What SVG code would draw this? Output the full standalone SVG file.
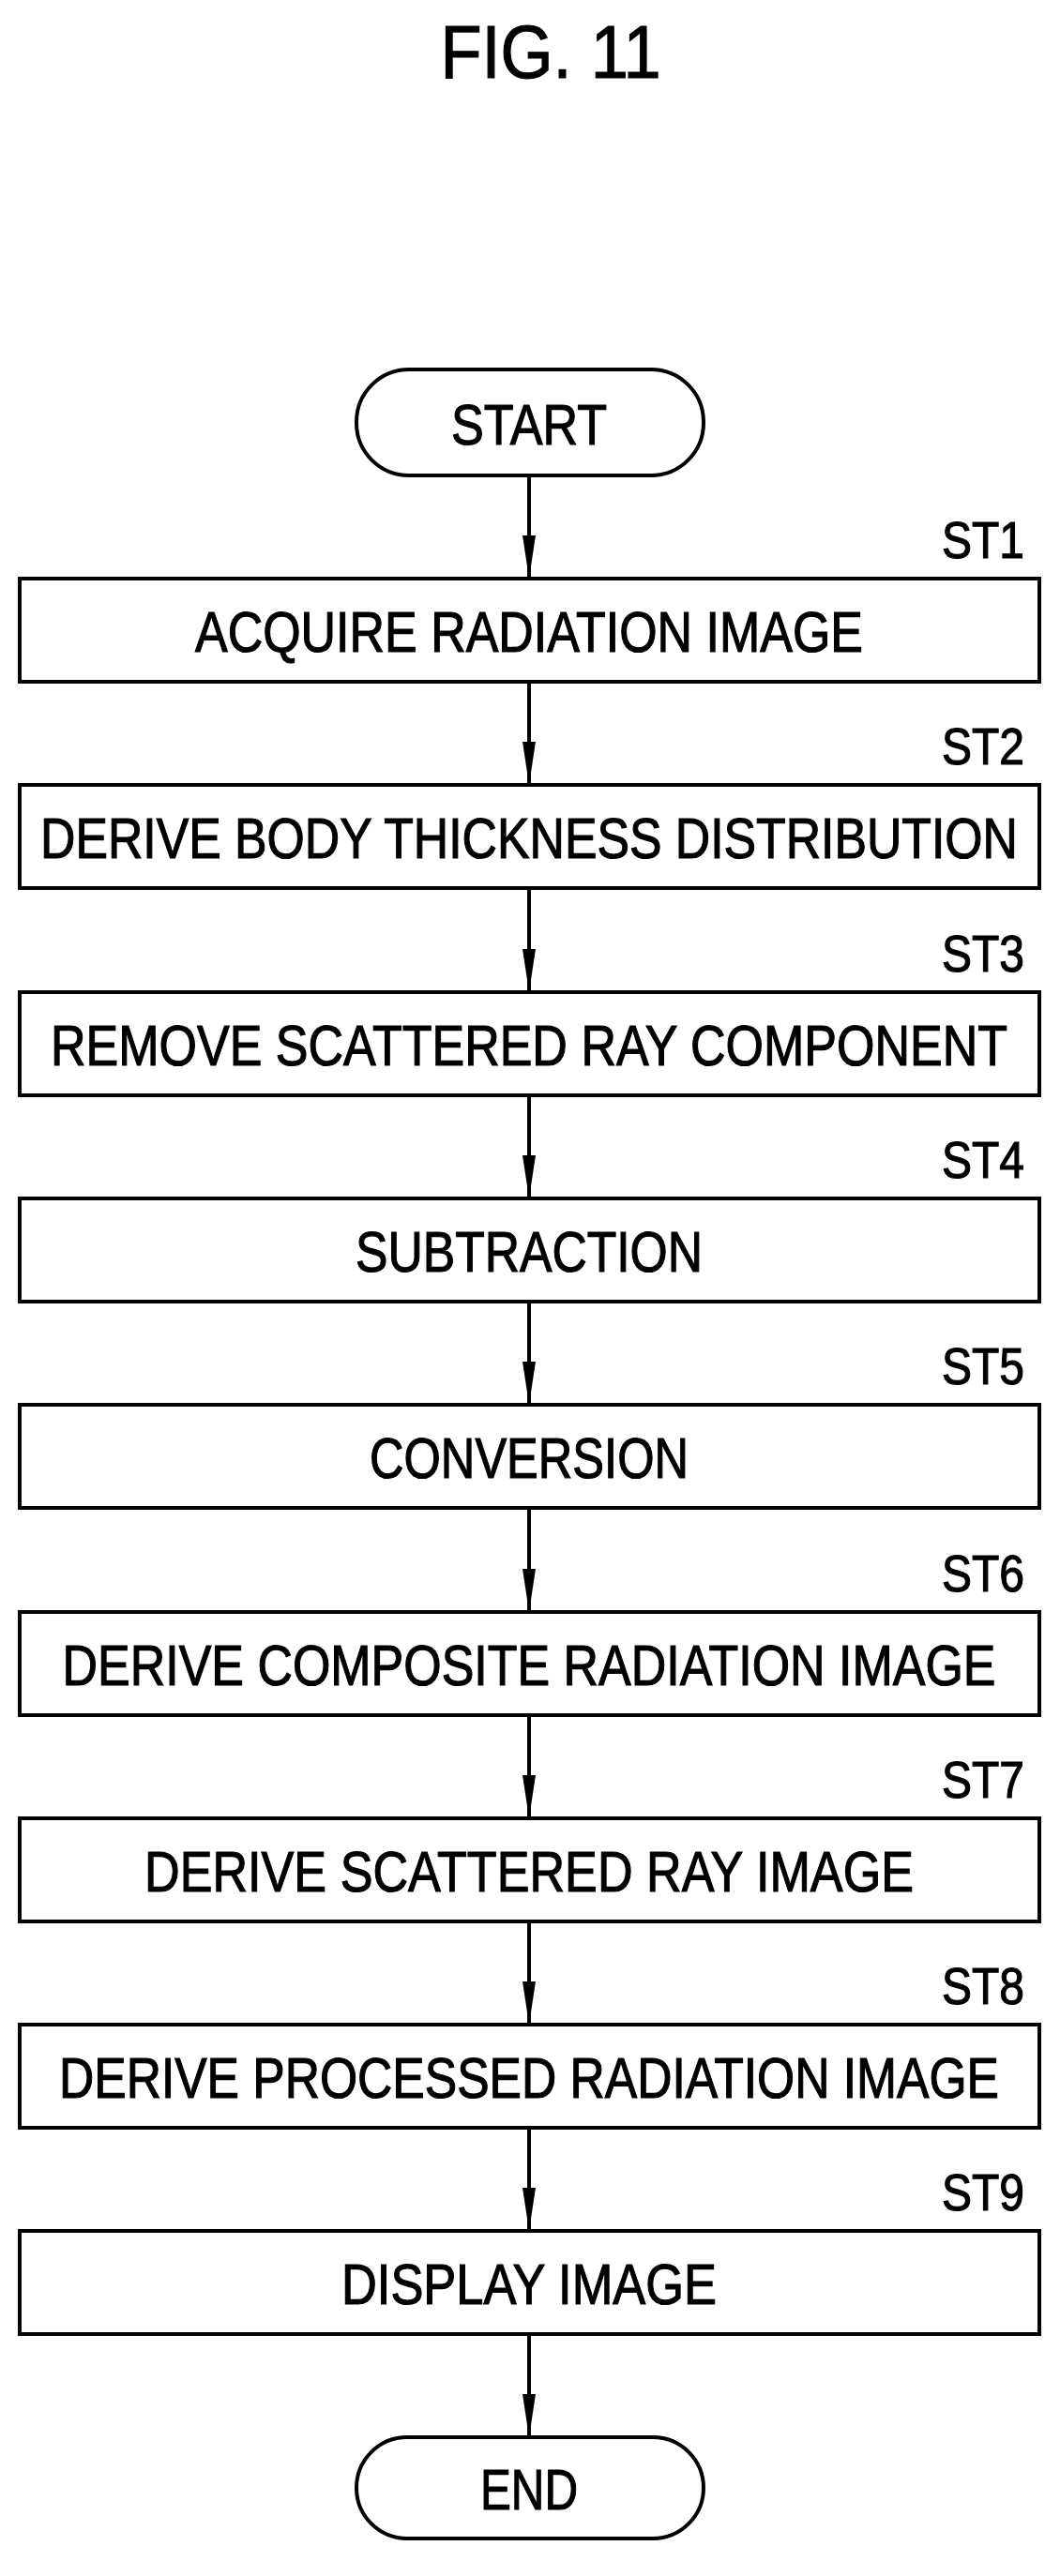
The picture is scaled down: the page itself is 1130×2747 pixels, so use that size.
<svg xmlns="http://www.w3.org/2000/svg" width="1130" height="2747" viewBox="0 0 1130 2747">
<style>
text{font-family:"Liberation Sans",Arial,sans-serif;fill:#000;stroke:#000;stroke-width:1.2}
.t{font-size:62px;text-anchor:middle}
.s{font-size:56px;text-anchor:end}
.b{fill:#fff;stroke:#000;stroke-width:4}
.c line{stroke:#000;stroke-width:4}
</style>
<defs><marker id="d" markerWidth="46" markerHeight="14" refX="46" refY="7" orient="auto" markerUnits="userSpaceOnUse"><path d="M0,0 L46,7 L0,14 Z" fill="#000"/></marker></defs>
<text x="587" y="83" font-size="80" text-anchor="middle" textLength="235" lengthAdjust="spacingAndGlyphs">FIG. 11</text>
<g class="c">
<line x1="564" y1="507" x2="564" y2="617" marker-end="url(#d)"/>
<line x1="564" y1="727" x2="564" y2="837" marker-end="url(#d)"/>
<line x1="564" y1="948" x2="564" y2="1058" marker-end="url(#d)"/>
<line x1="564" y1="1168" x2="564" y2="1278" marker-end="url(#d)"/>
<line x1="564" y1="1388" x2="564" y2="1498" marker-end="url(#d)"/>
<line x1="564" y1="1609" x2="564" y2="1719" marker-end="url(#d)"/>
<line x1="564" y1="1829" x2="564" y2="1939" marker-end="url(#d)"/>
<line x1="564" y1="2049" x2="564" y2="2159" marker-end="url(#d)"/>
<line x1="564" y1="2269" x2="564" y2="2379" marker-end="url(#d)"/>
<line x1="564" y1="2489" x2="564" y2="2599" marker-end="url(#d)"/>
</g>
<g id="start"><rect class="b" x="380" y="394" width="370" height="113" rx="56"/><text class="t" x="564" y="474" textLength="166" lengthAdjust="spacingAndGlyphs">START</text></g>
<g id="st1"><rect class="b" x="21" y="617" width="1087" height="110"/><text class="t" x="564" y="695" textLength="712" lengthAdjust="spacingAndGlyphs">ACQUIRE RADIATION IMAGE</text><text class="s" x="1092" y="595" textLength="88" lengthAdjust="spacingAndGlyphs">ST1</text></g>
<g id="st2"><rect class="b" x="21" y="837" width="1087" height="110"/><text class="t" x="564" y="915" textLength="1042" lengthAdjust="spacingAndGlyphs">DERIVE BODY THICKNESS DISTRIBUTION</text><text class="s" x="1092" y="815" textLength="88" lengthAdjust="spacingAndGlyphs">ST2</text></g>
<g id="st3"><rect class="b" x="21" y="1058" width="1087" height="110"/><text class="t" x="564" y="1136" textLength="1020" lengthAdjust="spacingAndGlyphs">REMOVE SCATTERED RAY COMPONENT</text><text class="s" x="1092" y="1036" textLength="88" lengthAdjust="spacingAndGlyphs">ST3</text></g>
<g id="st4"><rect class="b" x="21" y="1278" width="1087" height="110"/><text class="t" x="564" y="1356" textLength="370" lengthAdjust="spacingAndGlyphs">SUBTRACTION</text><text class="s" x="1092" y="1256" textLength="88" lengthAdjust="spacingAndGlyphs">ST4</text></g>
<g id="st5"><rect class="b" x="21" y="1498" width="1087" height="110"/><text class="t" x="564" y="1576" textLength="340" lengthAdjust="spacingAndGlyphs">CONVERSION</text><text class="s" x="1092" y="1476" textLength="88" lengthAdjust="spacingAndGlyphs">ST5</text></g>
<g id="st6"><rect class="b" x="21" y="1719" width="1087" height="110"/><text class="t" x="564" y="1797" textLength="995" lengthAdjust="spacingAndGlyphs">DERIVE COMPOSITE RADIATION IMAGE</text><text class="s" x="1092" y="1697" textLength="88" lengthAdjust="spacingAndGlyphs">ST6</text></g>
<g id="st7"><rect class="b" x="21" y="1939" width="1087" height="110"/><text class="t" x="564" y="2017" textLength="820" lengthAdjust="spacingAndGlyphs">DERIVE SCATTERED RAY IMAGE</text><text class="s" x="1092" y="1917" textLength="88" lengthAdjust="spacingAndGlyphs">ST7</text></g>
<g id="st8"><rect class="b" x="21" y="2159" width="1087" height="110"/><text class="t" x="564" y="2237" textLength="1002" lengthAdjust="spacingAndGlyphs">DERIVE PROCESSED RADIATION IMAGE</text><text class="s" x="1092" y="2137" textLength="88" lengthAdjust="spacingAndGlyphs">ST8</text></g>
<g id="st9"><rect class="b" x="21" y="2379" width="1087" height="110"/><text class="t" x="564" y="2457" textLength="400" lengthAdjust="spacingAndGlyphs">DISPLAY IMAGE</text><text class="s" x="1092" y="2357" textLength="88" lengthAdjust="spacingAndGlyphs">ST9</text></g>
<g id="end"><rect class="b" x="380" y="2599" width="370" height="108" rx="54"/><text class="t" x="564" y="2676" textLength="104" lengthAdjust="spacingAndGlyphs">END</text></g>
</svg>
